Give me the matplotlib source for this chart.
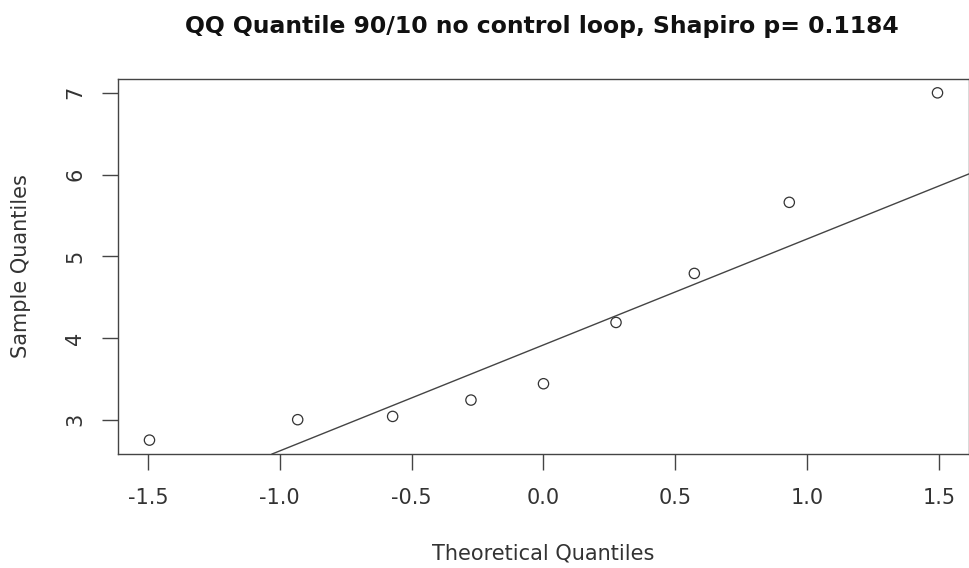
import matplotlib
matplotlib.use("Agg")
import matplotlib.pyplot as plt
import numpy as np

plt.rcParams['font.family'] = ['DejaVu Sans']

# theoretical normal quantiles (ppoints, n = 9) and observed sample values
theoretical = [-1.494, -0.932, -0.572, -0.275, 0.0, 0.275, 0.572, 0.932, 1.494]
sample = [2.75, 3.00, 3.04, 3.24, 3.44, 4.19, 4.79, 5.66, 7.00]
p_value = 0.1184

xticks = [-1.5, -1.0, -0.5, 0.0, 0.5, 1.0, 1.5]
yticks = [3, 4, 5, 6, 7]

# reference line through the first and third quartiles
q1, q3 = np.percentile(sample, [25, 75])
z1, z3 = -0.6745, 0.6745
slope = (q3 - q1) / (z3 - z1)
intercept = q1 - slope * z1

fig = plt.figure(figsize=(9.7, 5.68), dpi=100)
ax = fig.add_axes([0.1216, 0.2007, 0.8774, 0.6603])

ax.scatter(theoretical, sample, s=55, facecolors='none', edgecolors='#333333',
           linewidths=0.9, zorder=3)
ax.axline((0, intercept), slope=slope, color='#444444', linewidth=1.0)

xr = max(theoretical) - min(theoretical)
yr = max(sample) - min(sample)
ax.set_xlim(min(theoretical) - 0.04 * xr, max(theoretical) + 0.04 * xr)
ax.set_ylim(min(sample) - 0.04 * yr, max(sample) + 0.04 * yr)

ax.set_xticks(xticks)
ax.set_xticklabels([f"{t:.1f}" for t in xticks])
ax.set_yticks(yticks)
ax.set_yticklabels([str(t) for t in yticks], rotation=90, va='center')
ax.tick_params(length=11.5, width=1, color='#444444', labelsize=15,
               labelcolor='#333333')
ax.tick_params(axis='x', pad=13)
ax.tick_params(axis='y', pad=12)

for s in ax.spines.values():
    s.set_color('#444444')
    s.set_linewidth(1)

fig.text(0.56, 1 - 560 / 568, "Theoretical Quantiles", fontsize=15,
         color='#333333', ha='center', va='baseline')
fig.text(21 / 970, 1 - 266 / 568, "Sample Quantiles", fontsize=15,
         color='#333333', ha='center', va='center', rotation=90)
fig.text(542 / 970, 1 - 32.5 / 568,
         f"QQ Quantile 90/10 no control loop, Shapiro p= {p_value}",
         fontsize=16.9, fontweight='bold', color='#111111',
         ha='center', va='baseline')

fig.savefig("out.png", dpi=100)
